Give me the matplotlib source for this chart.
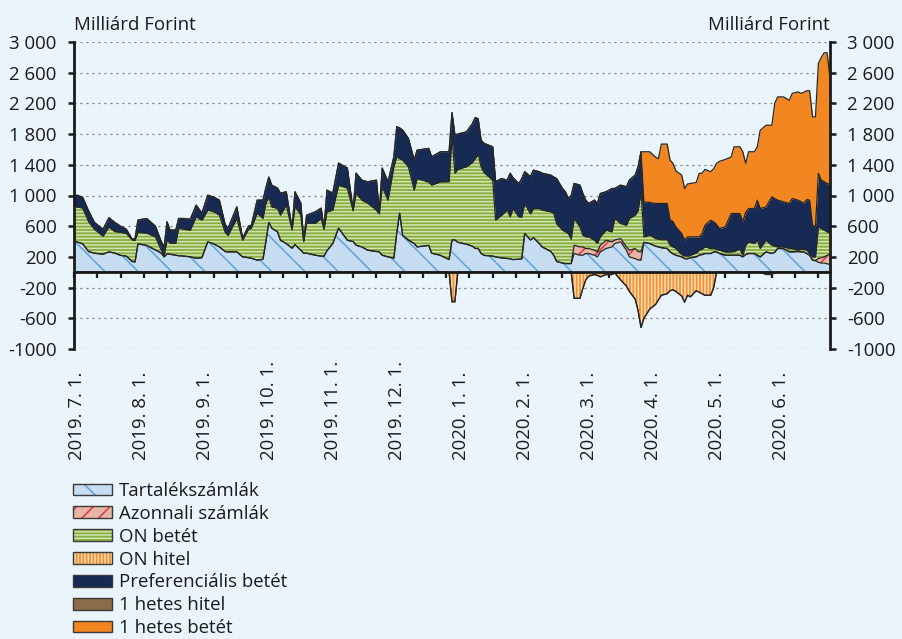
import numpy as np
import matplotlib
matplotlib.use("Agg")
import matplotlib.pyplot as plt
from matplotlib.patches import Patch
from matplotlib.legend_handler import HandlerTuple

plt.rcParams['font.family'] = ['Open Sans', 'DejaVu Sans']
plt.rcParams['hatch.linewidth'] = 1.1

# ---------------- data (milliárd Ft), x = trading-day index -----------------
idx = [0, 1, 3, 5, 7, 10, 12, 14, 16, 18,
       20, 21, 22, 25, 28, 30, 31, 32, 33, 35,
       36, 38, 40, 42, 44, 46, 48, 50, 52, 53,
       56, 58, 60, 61, 63, 65, 66, 67, 68, 70,
       71, 73, 75, 76, 78, 79, 80, 83, 85, 86,
       87, 89, 91, 94, 96, 97, 99, 101, 104, 105,
       106, 108, 110, 111, 112, 113, 115, 117, 118, 122,
       123, 126, 129, 130, 131, 132, 135, 137, 138, 139,
       140, 141, 144, 145, 147, 149, 150, 151, 153, 154,
       155, 157, 158, 160, 161, 164, 165, 166, 168, 169,
       170, 171, 172, 174, 175, 176, 177, 179, 180, 181,
       183, 185, 186, 188, 190, 191, 193, 194, 195, 196,
       198, 200, 201, 202, 204, 205, 206, 207, 209, 210,
       211, 212, 214, 215, 216, 217, 219, 220, 221, 222,
       224, 226, 227, 229, 230, 231, 232, 234, 235, 236,
       238, 240, 241, 242, 244, 246, 247, 249, 250, 251,
       252, 253, 254, 255, 256, 257, 258, 259, 260]

tartalek = [400, 396, 370, 270, 248, 235, 265, 250, 220, 210,
            140, 135, 370, 350, 290, 250, 200, 240, 235, 222,
            215, 210, 200, 183, 190, 396, 370, 330, 270, 265,
            265, 200, 190, 183, 157, 170, 400, 650, 574, 526,
            417, 374, 313, 360, 287, 248, 248, 222, 210, 210,
            280, 374, 574, 417, 400, 352, 330, 287, 270, 265,
            222, 200, 183, 509, 770, 483, 420, 374, 330, 350,
            248, 220, 165, 420, 420, 390, 365, 340, 310, 310,
            245, 220, 210, 200, 187, 180, 175, 165, 170, 175,
            505, 420, 450, 375, 330, 270, 220, 140, 120, 113,
            113, 113, 244, 222, 222, 244, 244, 222, 200, 265,
            309, 330, 374, 396, 287, 200, 178, 160, 157, 390,
            374, 340, 330, 320, 309, 265, 240, 222, 200, 178,
            175, 190, 200, 222, 230, 244, 244, 265, 265, 244,
            222, 222, 222, 222, 200, 230, 244, 244, 222, 200,
            265, 244, 260, 309, 309, 265, 265, 270, 265, 265,
            244, 222, 157, 150, 130, 120, 120, 110, 100]

azonnali = [0] * 100 + \
           [0, 0, 108, 108, 108, 65, 65, 65, 65, 87,
            108, 66, 46, 43, 43, 87, 131, 110, 108, 0] + \
           [0] * 40 + \
           [0, 0, 0, 0, 50, 70, 80, 110, 140]

on_betet = [445, 456, 465, 390, 312, 235, 325, 280, 300, 295,
            280, 280, 150, 160, 170, 40, 20, 180, 145, 156,
            359, 350, 348, 539, 488, 413, 420, 413, 250, 215,
            435, 217, 370, 391, 613, 530, 500, 330, 278, 304,
            326, 500, 237, 500, 456, 148, 391, 417, 490, 350,
            507, 435, 561, 679, 400, 678, 609, 613, 539, 495,
            891, 739, 1191, 995, 710, 978, 954, 696, 892, 824,
            887, 958, 1015, 1345, 870, 950, 1010, 1090, 1170, 1230,
            1130, 1080, 990, 480, 553, 630, 545, 665, 550, 545,
            390, 340, 380, 455, 480, 517, 545, 490, 430, 413,
            392, 317, 348, 261, 153, 152, 152, 130, 109, 109,
            131, 130, 280, 196, 283, 413, 435, 530, 783, 70,
            109, 100, 100, 105, 116, 87, 90, 87, 30, 37,
            35, 32, 50, 65, 70, 86, 65, 44, 35, 43,
            43, 43, 48, 78, 22, 120, 152, 130, 195, 109,
            152, 108, 80, 21, 21, 44, 44, 17, 35, 35,
            43, 22, 43, 50, 410, 380, 350, 306, 265]

pref = [145, 152, 140, 140, 90, 90, 120, 120, 80, 55,
        10, 25, 160, 190, 140, 110, 110, 237, 170, 172,
        126, 140, 142, 152, 92, 195, 190, 196, 100, 94,
        152, 26, 40, 39, 169, 239, 200, 260, 283, 266,
        287, 174, 24, 188, 157, 21, 104, 148, 135, 14,
        283, 221, 287, 261, 9, 261, 261, 278, 391, 27,
        244, 239, 130, 392, 400, 391, 370, 391, 369, 439,
        369, 391, 390, 315, 500, 460, 455, 505, 535, 460,
        345, 380, 435, 500, 480, 390, 570, 400, 435, 500,
        415, 485, 500, 480, 480, 478, 475, 590, 540, 522,
        455, 570, 457, 544, 543, 479, 435, 523, 522, 565,
        500, 565, 391, 500, 500, 500, 521, 574, 522, 457,
        427, 456, 466, 471, 471, 328, 330, 281, 275, 205,
        251, 239, 211, 174, 200, 283, 369, 348, 320, 283,
        326, 500, 495, 465, 435, 430, 434, 456, 522, 521,
        435, 631, 620, 609, 587, 587, 652, 652, 620, 596,
        661, 695, 413, 390, 700, 630, 630, 629, 645]

hetes_betet = [0] * 119 + [653] + \
              [660, 604, 584, 774, 774, 780, 760, 730, 760, 670,
               689, 696, 709, 826, 790, 727, 632, 693, 800, 875,
               879, 735, 870, 870, 913, 640, 740, 740, 696, 1020,
               1063, 932, 1240, 1346, 1368, 1344, 1369, 1411, 1410, 1449,
               1417, 1426, 1412, 1435, 1430, 1600, 1680, 1705, 1385]

on_hitel = [0] * 73 + [-385, -385] + [0] * 27 + \
           [-340, -340, -213, -100, -50, -30, -40, -60,
            -30, -30, -10, -100, -180, -250, -350, -500, -720, -600,
            -480, -420, -360, -300, -280, -240, -230, -250, -310, -390,
            -300, -320, -240, -260, -280, -300, -300, -200, 0, 0] + \
           [0] * 29

hetes_hitel = [0] * 150 + [-30, -30] + [0] * 17

month_labels = ["2019. 7. 1.", "2019. 8. 1.", "2019. 9. 1.", "2019. 10. 1.",
                "2019. 11. 1.", "2019. 12. 1.", "2020. 1. 1.", "2020. 2. 1.",
                "2020. 3. 1.", "2020. 4. 1.", "2020. 5. 1.", "2020. 6. 1."]
month_pos = [1, 23, 45, 67, 89, 111, 133, 155, 177, 199, 221, 243]

y_ticks = [-1000, -600, -200, 200, 600, 1000, 1400, 1800, 2200, 2600, 3000]
y_labels = ["-1000", "-600", "-200", "200", "600", "1 000", "1 400",
            "1 800", "2 200", "2 600", "3 000"]

names = ["Tartalékszámlák", "Azonnali számlák", "ON betét", "ON hitel",
         "Preferenciális betét", "1 hetes hitel", "1 hetes betét"]

# ---------------- styles -----------------
BG = '#eaf4fb'
EDGE = '#262626'
sty = {
    "Tartalékszámlák": dict(fc='#c6dcf0', hc='#62a0d8', hatch='\\'),
    "Azonnali számlák": dict(fc='#e8b4a5', hc='#d23c46', hatch='//'),
    "ON betét": dict(fc='#86ad3f', hc='#d3e4b0', hatch='-----'),
    "ON hitel": dict(fc='#f3922f', hc='#fcdcb8', hatch='|||||'),
    "Preferenciális betét": dict(fc='#172a54', hc='#172a54', hatch=None),
    "1 hetes hitel": dict(fc='#8b6c48', hc='#8b6c48', hatch=None),
    "1 hetes betét": dict(fc='#f28620', hc='#f28620', hatch=None),
}

x = np.array(idx)
pos_series = [("Tartalékszámlák", tartalek), ("Azonnali számlák", azonnali),
              ("ON betét", on_betet), ("Preferenciális betét", pref),
              ("1 hetes betét", hetes_betet)]
neg_series = [("ON hitel", on_hitel), ("1 hetes hitel", hetes_hitel)]

fig = plt.figure(figsize=(9.02, 6.39), dpi=100, facecolor=BG)
ax = fig.add_axes([74 / 902, 1 - 349 / 639, 756 / 902, 307 / 639])
ax.set_facecolor(BG)

lines_to_draw = []
lower = np.zeros(len(x))
for name, vals in pos_series:
    upper = lower + np.array(vals, dtype=float)
    s = sty[name]
    ax.fill_between(x, lower, upper, facecolor=s['fc'], edgecolor=s['hc'],
                    hatch=s['hatch'], linewidth=0, zorder=2)
    lines_to_draw.append(upper.copy())
    lower = upper

lower = np.zeros(len(x))
for name, vals in neg_series:
    upper = lower + np.array(vals, dtype=float)
    s = sty[name]
    ax.fill_between(x, lower, upper, facecolor=s['fc'], edgecolor=s['hc'],
                    hatch=s['hatch'], linewidth=0, zorder=2)
    lines_to_draw.append(upper.copy())
    lower = upper

for ln in lines_to_draw:
    ax.plot(x, ln, color=EDGE, lw=0.9, zorder=3)

ax.set_xlim(0, 260)
ax.set_ylim(-1000, 3000)
ax.set_yticks(y_ticks)
ax.set_yticklabels(y_labels)
ax.yaxis.set_ticks_position('both')
ax.tick_params(axis='y', which='both', direction='out', length=4.5, width=1.8,
               labelsize=13.4, pad=8, labelleft=True, labelright=True,
               colors='#1a1a1a')
ax.yaxis.grid(True, linestyle=(0, (1.6, 3.2)), color='#7a7a7a', lw=0.9)
ax.set_axisbelow(True)

ax.spines['top'].set_visible(False)
for sp in ['left', 'right']:
    ax.spines[sp].set_linewidth(2.0)
    ax.spines[sp].set_color('#1a1a1a')
ax.spines['bottom'].set_position(('data', 0))
ax.spines['bottom'].set_linewidth(2.0)
ax.spines['bottom'].set_color('#1a1a1a')
ax.spines['bottom'].set_zorder(4)
ax.set_xticks(np.arange(0, 261, 8))
ax.tick_params(axis='x', direction='out', length=4, width=1.6,
               labelbottom=False, colors='#1a1a1a')

for p, lab in zip(month_pos, month_labels):
    ax.text(p, -0.362, lab, transform=ax.get_xaxis_transform(), rotation=90,
            ha='center', va='bottom', fontsize=13.4, color='#1a1a1a')

fig.text(74 / 902, 1 - 30 / 639, "Milliárd Forint", ha='left', va='baseline',
         fontsize=13.4, color='#1a1a1a')
fig.text(830 / 902, 1 - 30 / 639, "Milliárd Forint", ha='right', va='baseline',
         fontsize=13.4, color='#1a1a1a')

handles = []
for name in names:
    s = sty[name]
    h1 = Patch(facecolor=s['fc'], edgecolor=s['hc'], hatch=s['hatch'], lw=0)
    h2 = Patch(facecolor='none', edgecolor='#3a3a3a', lw=1.0)
    handles.append((h1, h2))
fig.legend(handles, names, loc='upper left',
           bbox_to_anchor=(73 / 902, 1 - 482 / 639),
           handler_map={tuple: HandlerTuple(ndivide=1, pad=0)},
           frameon=False, fontsize=13.4, borderpad=0, borderaxespad=0,
           handlelength=2.1, handleheight=0.6, handletextpad=0.38,
           labelspacing=0.26, labelcolor='#1a1a1a')

fig.savefig("out.png", dpi=100, facecolor=BG)
